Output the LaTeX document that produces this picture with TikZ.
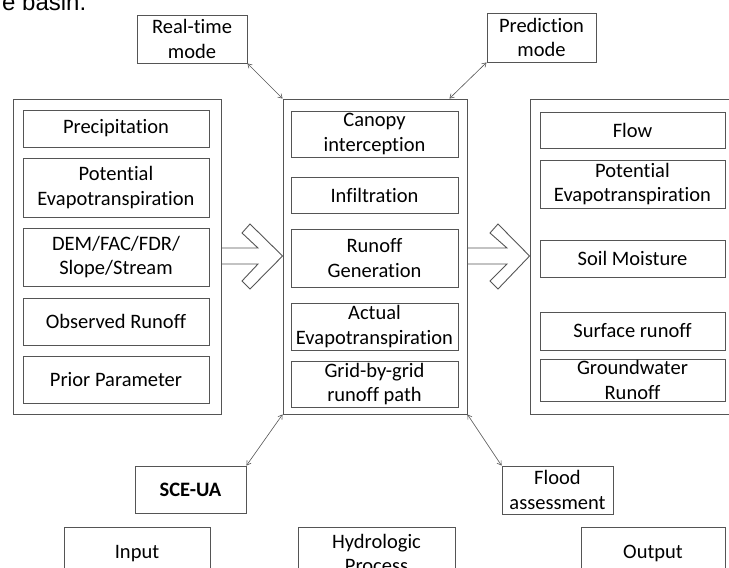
\documentclass[tikz,border=0pt]{standalone}
\usepackage{fontspec}
\setmainfont{Carlito}[Ligatures=NoCommon]
\newfontfamily\capfont{Liberation Sans}
\usetikzlibrary{arrows.meta}

\definecolor{linegray}{HTML}{555555}
\tikzset{
  box/.style={draw=linegray, line width=0.9pt, align=center, inner sep=0pt,
              font=\fontsize{20.5}{24.5}\selectfont},
  frame/.style={draw=linegray, line width=0.9pt, inner sep=0pt},
  link/.style={draw=linegray, line width=0.6pt,
               {Straight Barb[length=4pt,width=5pt]}-{Straight Barb[length=4pt,width=5pt]}},
  blockarrow/.style={draw=linegray, line width=0.9pt, line join=miter}
}

\begin{document}
\begin{tikzpicture}[x=1pt,y=-1pt]
				\useasboundingbox (0,0) rectangle (729,568);
				\node[anchor=base west, font=\capfont\fontsize{24}{28}\selectfont, inner sep=0pt] (caption) at (2,10) {e basin.};
				
				% mode boxes
				\node[box, minimum width=110, minimum height=48] (realtime) at (192,39) {Real-time\\mode};
				\node[box, minimum width=109, minimum height=49] (prediction) at (541.5,37.5) {Prediction\\mode};
				
				% input column
				\node[frame, minimum width=208, minimum height=315] (inbox) at (117,256.5) {};
				\node[box, minimum width=186, minimum height=37] (prec) at (116,128.5) {Precipitation};
				\node[box, minimum width=186, minimum height=59] (pet) at (116,187.5) {Potential\\Evapotranspiration};
				\node[box, minimum width=186, minimum height=58] (dem) at (116,257) {DEM/FAC/FDR/\\Slope/Stream};
				\node[box, minimum width=186, minimum height=47] (obs) at (116,321.5) {Observed Runoff};
				\node[box, minimum width=186, minimum height=47] (prior) at (116,379.5) {Prior Parameter};
				
				% hydrologic process column
				\node[frame, minimum width=184, minimum height=315] (proc) at (375,256.5) {};
				\node[box, minimum width=167, minimum height=46] (canopy) at (374.5,134) {Canopy\\interception};
				\node[box, minimum width=167, minimum height=36] (infil) at (374.5,195) {Infiltration};
				\node[box, minimum width=167, minimum height=58] (rgen) at (374.5,258) {Runoff\\Generation};
				\node[box, minimum width=167, minimum height=47] (aet) at (374.5,326.5) {Actual\\Evapotranspiration};
				\node[box, minimum width=167, minimum height=46] (grid) at (374.5,384) {Grid-by-grid\\runoff path};
				
				% output column
				\node[frame, minimum width=215, minimum height=315] (outbox) at (637.5,256.5) {};
				\node[box, minimum width=185, minimum height=36] (flow) at (632.5,130) {Flow};
				\node[box, minimum width=185, minimum height=48] (opet) at (632.5,184) {Potential\\Evapotranspiration};
				\node[box, minimum width=185, minimum height=37] (soil) at (632.5,258.5) {Soil Moisture};
				\node[box, minimum width=185, minimum height=38] (surf) at (632.5,331) {Surface runoff};
				\node[box, minimum width=185, minimum height=42] (gw) at (632.5,380) {Groundwater\\Runoff};
				
				% calibration and assessment
				\node[box, minimum width=111, minimum height=47, font=\fontsize{20.5}{24.5}\selectfont\bfseries] (sce) at (190.5,489.5) {SCE-UA};
				\node[box, minimum width=111, minimum height=48] (flood) at (557.5,490) {Flood\\assessment};
				
				% column titles
				\node[box, minimum width=146, minimum height=53] (input) at (137,553.5) {Input};
				\node[box, minimum width=157, minimum height=53] (hydro) at (376.5,553.5) {Hydrologic\\Process};
				\node[box, minimum width=144, minimum height=53] (output) at (653,553.5) {Output};
				
				% links
				\draw[link] (realtime.south east) -- (proc.north west);
				\draw[link] (prediction.south west) -- ([xshift=-18pt]proc.north east);
				\draw[link] (sce.north east) -- (proc.south west);
				\draw[link] (proc.south east) -- (flood.north west);
				
				% block arrows
				\draw[blockarrow] (inbox.east |- 0,248) -- (258,248) -- (242,233) -- (250,224) -- (proc.west |- 0,256)
					-- (250,289) -- (242,281) -- (258,264) -- (inbox.east |- 0,264);
				\draw[blockarrow] (proc.east |- 0,248) -- (507,248) -- (490,233) -- (498,224) -- (outbox.west |- 0,256)
					-- (498,289) -- (490,281) -- (507,264) -- (proc.east |- 0,264);
			\end{tikzpicture}
\end{document}
